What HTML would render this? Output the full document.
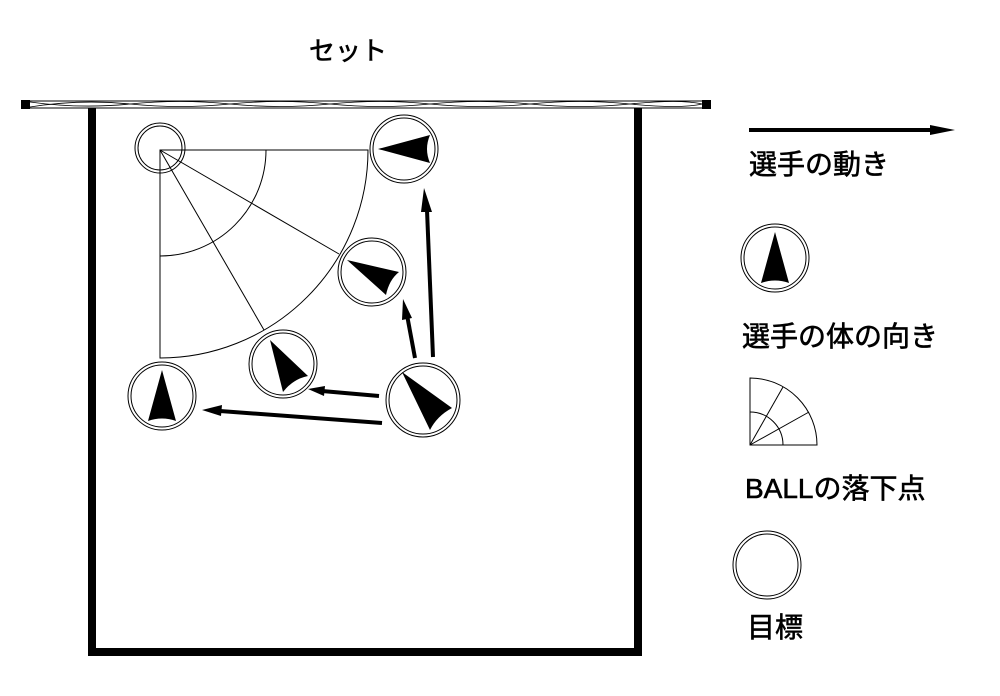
<!DOCTYPE html>
<html><head><meta charset="utf-8"><style>
html,body{margin:0;padding:0;background:#fff;}
svg{display:block;}
text{font-family:"Liberation Sans","Noto Sans CJK JP",sans-serif;fill:#000;stroke:#000;stroke-width:0.6;}
</style></head><body>
<svg width="1000" height="696" viewBox="0 0 1000 696" xmlns="http://www.w3.org/2000/svg">
<rect width="1000" height="696" fill="#fff"/>
<text x="309" y="60" font-size="26">セット</text>
<!-- net -->
<rect x="22" y="101" width="688" height="7" fill="#fff" stroke="#000" stroke-width="1"/>
<path d="M30 107 Q80 99 130 104 T230 104 T330 104 T430 104 T530 104 T630 104 T702 104" fill="none" stroke="#000" stroke-width="0.8"/>
<path d="M30 102 Q80 109 130 104 T230 104 T330 104 T430 104 T530 104 T630 104 T702 104" fill="none" stroke="#000" stroke-width="0.8"/>
<rect x="21" y="100" width="9" height="9" fill="#000"/>
<rect x="702" y="100" width="9" height="9" fill="#000"/>
<!-- court -->
<path d="M92 108 V652 H638 V108" fill="none" stroke="#000" stroke-width="8"/>
<!-- sector -->
<g fill="none" stroke="#000" stroke-width="1">
<path d="M160 150 H368 A208 208 0 0 1 160 358 Z"/>
<path d="M266 150 A106 106 0 0 1 160 256"/>
<line x1="160" y1="150" x2="339" y2="254"/>
<line x1="160" y1="150" x2="264" y2="330"/>
</g>
<!-- circles -->
<g fill="none" stroke="#000" stroke-width="1">
<circle cx="160" cy="148" r="25"/><circle cx="160" cy="148" r="22"/>
<circle cx="404" cy="149" r="34"/><circle cx="404" cy="149" r="31"/>
<circle cx="372" cy="272" r="34"/><circle cx="372" cy="272" r="31"/>
<circle cx="283" cy="364" r="34"/><circle cx="283" cy="364" r="31"/>
<circle cx="162" cy="396" r="34"/><circle cx="162" cy="396" r="31"/>
<circle cx="423" cy="400" r="37"/><circle cx="423" cy="400" r="34"/>
<circle cx="775" cy="258" r="34"/><circle cx="775" cy="258" r="31"/>
<circle cx="767" cy="565" r="34"/><circle cx="767" cy="565" r="31"/>
</g>
<!-- body direction heads -->
<g fill="#000">
<path d="M378 149 L430 135 Q424 149 430 163 Z"/>
<path d="M347 260 L399 272 Q389 280 386 295 Z"/>
<path d="M270 340 L308 376 Q293 379 283 392 Z"/>
<path d="M162 370 L176 421 Q162 416 148 421 Z"/>
<path d="M402 372 L452 408 Q437 416 430 430 Z"/>
<path d="M775 232 L789 283 Q775 278 761 283 Z"/>
</g>
<!-- movement arrows -->
<g stroke="#000" stroke-width="4" fill="none">
<line x1="433" y1="357" x2="427" y2="210"/>
<line x1="415" y1="358" x2="407" y2="315"/>
<line x1="379" y1="396" x2="322" y2="391"/>
<line x1="382" y1="423" x2="220" y2="411"/>
<line x1="749" y1="130" x2="935" y2="130"/>
</g>
<g fill="#000">
<path d="M424 188 L432 212 L421 212 Z"/>
<path d="M403 299 L412 318 L402 320 Z"/>
<path d="M308 389 L325 386 L324 396 Z"/>
<path d="M202 410 L222 405 L221 416 Z"/>
<path d="M955 130 L930 125 L930 135 Z"/>
</g>
<!-- legend -->
<text x="749" y="174" font-size="28">選手の動き</text>
<text x="742" y="346" font-size="28">選手の体の向き</text>
<g fill="none" stroke="#000" stroke-width="1">
<path d="M750 445 V378 A67 67 0 0 1 817 445 Z"/>
<path d="M750 412 A33 33 0 0 1 783 445"/>
<line x1="750" y1="445" x2="783" y2="387"/>
<line x1="750" y1="445" x2="809" y2="412"/>
</g>
<text x="745" y="498" font-size="28">BALLの落下点</text>
<text x="747" y="637" font-size="28">目標</text>
</svg>
</body></html>
